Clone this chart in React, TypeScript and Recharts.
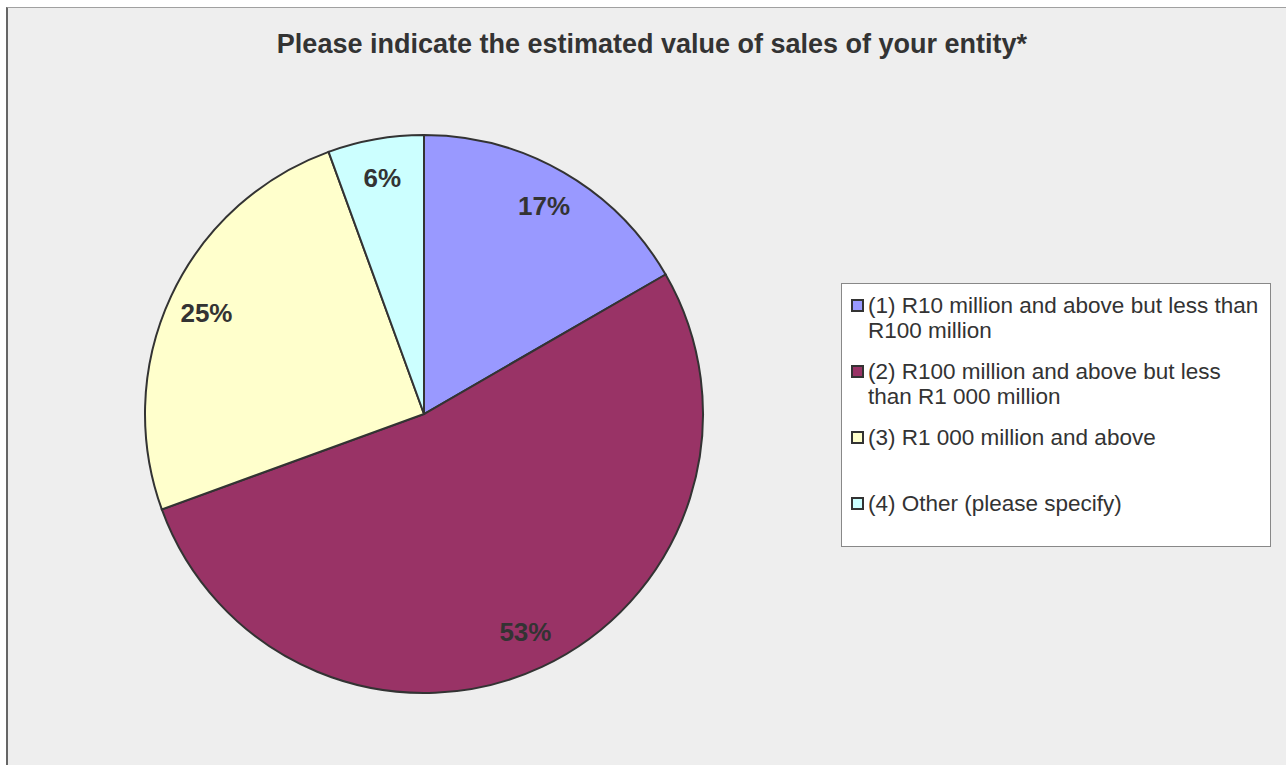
import { Cell, Legend, Pie, PieChart } from 'recharts';

const CATEGORIES = [
  '(1) R10 million and above but less than R100 million',
  '(2) R100 million and above but less than R1 000 million',
  '(3) R1 000 million and above',
  '(4) Other (please specify)',
];
const RESPONSES = [6, 19, 9, 2];
const COLORS = ['#9999FF', '#993366', '#FFFFCC', '#CCFFFF'];

const TITLE = 'Please indicate the estimated value of sales of your entity*';
const FONT = 'Arial, "Liberation Sans", sans-serif';
const RAD = Math.PI / 180;

const data = CATEGORIES.map((name, i) => ({ name, value: RESPONSES[i] }));

function renderLabel(props: any) {
  const { cx, cy, midAngle, percent } = props;
  const r = 240;
  const x = cx + r * Math.cos(-midAngle * RAD);
  const y = cy + r * Math.sin(-midAngle * RAD);
  return (
    <text
      x={x}
      y={y}
      textAnchor="middle"
      dominantBaseline="central"
      fill="#333333"
      fontFamily={FONT}
      fontWeight="bold"
      fontSize={26}
    >
      {`${Math.round(percent * 100)}%`}
    </text>
  );
}

function LegendBox({ payload }: any) {
  return (
    <div
      style={{
        boxSizing: 'border-box',
        width: 430,
        height: 264,
        border: '1px solid #888888',
        background: '#ffffff',
        paddingTop: 9,
        fontFamily: FONT,
        fontSize: 22.5,
        lineHeight: '25px',
        color: '#333333',
      }}
    >
      {(payload ?? []).map((entry: any) => (
        <div key={entry.value} style={{ display: 'flex', alignItems: 'flex-start', height: 66 }}>
          <span
            style={{
              boxSizing: 'border-box',
              width: 13,
              height: 13,
              marginTop: 6,
              marginLeft: 9,
              flexShrink: 0,
              border: '2px solid #333333',
              backgroundColor: entry.color,
            }}
          />
          <span style={{ marginLeft: 4, width: 395 }}>{entry.value}</span>
        </div>
      ))}
    </div>
  );
}

export default function App() {
  return (
    <div
      style={{
        position: 'absolute',
        left: 0,
        top: 0,
        width: 1286,
        height: 765,
        background: '#ffffff',
        overflow: 'hidden',
      }}
    >
      <div
        style={{
          position: 'absolute',
          left: 6,
          top: 7,
          width: 1290,
          height: 770,
          background: '#EEEEEE',
          borderLeft: '2px solid #666666',
          borderTop: '1px solid #A0A0A0',
        }}
      />
      <div
        style={{
          position: 'absolute',
          left: 0,
          top: 29,
          width: 1304,
          textAlign: 'center',
          fontFamily: FONT,
          fontWeight: 'bold',
          fontSize: 27,
          lineHeight: '30px',
          color: '#333333',
        }}
      >
        {TITLE}
      </div>
      <div style={{ position: 'absolute', left: 0, top: 0 }}>
        <PieChart width={1286} height={765} margin={{ top: 0, right: 0, bottom: 0, left: 0 }}>
          <Pie
            data={data}
            dataKey="value"
            nameKey="name"
            cx={424}
            cy={414}
            outerRadius={279}
            startAngle={90}
            endAngle={-270}
            stroke="#333333"
            strokeWidth={2}
            label={renderLabel}
            labelLine={false}
            isAnimationActive={false}
          >
            {data.map((entry, i) => (
              <Cell key={entry.name} fill={COLORS[i]} />
            ))}
          </Pie>
          <Legend
            layout="vertical"
            align="right"
            verticalAlign="middle"
            content={<LegendBox />}
            wrapperStyle={{ left: 841, top: 283, width: 430, height: 264 }}
          />
        </PieChart>
      </div>
    </div>
  );
}
